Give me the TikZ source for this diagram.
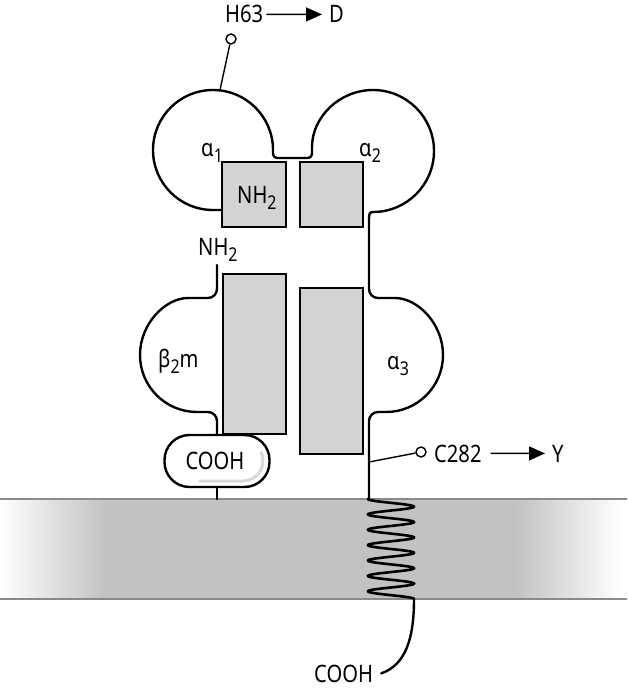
\documentclass[tikz,border=0pt]{standalone}
\usepackage{fontspec}
\setmainfont{Noto Sans}[FakeStretch=0.84]
\usetikzlibrary{arrows.meta}
\definecolor{boxgray}{HTML}{D3D3D3}
\definecolor{memgray}{HTML}{C2C2C2}
\definecolor{memline}{HTML}{8A8A8A}
\newcommand\subs[1]{\raisebox{-6.5pt}{\fontsize{19}{19}\selectfont #1}}
\begin{document}
\begin{tikzpicture}[x=1pt,y=-1pt,
  lobe/.style={line width=2.4pt, line cap=round, line join=round},
  domainbox/.style={draw, line width=1.4pt, fill=boxgray},
  lbl/.style={inner sep=0pt, font=\fontsize{24}{28}\selectfont, anchor=base west},
  stem/.style={line width=1.4pt},
  arr/.style={line width=1.4pt, -{Triangle[length=16pt,width=14pt]}},
  dot/.style={circle, draw, line width=1.4pt, fill=white, minimum size=10pt, inner sep=0pt},
  capsule/.style={draw, line width=2.4pt, fill=white, rounded corners=25pt, minimum width=105pt, minimum height=52pt, inner sep=0pt, font=\fontsize{24}{28}\selectfont}]
\useasboundingbox (0,0) rectangle (627,688);
% membrane
\shade[left color=white, right color=memgray] (0,499) rectangle (106,599);
\fill[memgray] (105,499) rectangle (516,599);
\shade[left color=memgray, right color=white] (515,499) rectangle (620,599);
\draw[memline, line width=1.5pt] (0,499) -- (627,499);
\draw[memline, line width=1.5pt] (0,599) -- (627,599);
% alpha chain outline
\draw[lobe] (222,210) -- (213,210) arc[start angle=90, end angle=360, radius=60]
  [rounded corners=4pt] -- (273,158) -- (312,158) -- (312,151) [sharp corners]
  arc[start angle=180, end angle=450, radius=61]
  .. controls (369,212) and (369,214) .. (369,222)
  [rounded corners=9pt] -- (369,298) -- (386,298) [sharp corners]
  arc[start angle=270, end angle=450, radius=57]
  [rounded corners=9pt] -- (369,412) -- (369,499);
% beta2m outline
\draw[lobe] (217,265) [rounded corners=9pt] -- (217,298) -- (197,298) [sharp corners]
  arc[start angle=270, end angle=90, radius=57]
  [rounded corners=9pt] -- (217,412) -- (217,436);
% domain boxes
\draw[domainbox] (222,162) rectangle (286,227);
\draw[domainbox] (300,162) rectangle (363,227);
\draw[domainbox] (223,274) rectangle (286,434);
\draw[domainbox] (300,288) rectangle (363,454);
% capsule
\node[capsule] (cap) at (217,461) {};
\draw[gray!30, line width=3pt, line cap=round] (200,481) -- (243,481) arc[start angle=90, end angle=-25, radius=20];
\node[inner sep=0pt, font=\fontsize{24}{28}\selectfont] (captext) at (215,461) {COOH};
\coordinate (memtopL) at (217,499);
\draw[lobe] (cap.south) -- (memtopL);
% helix
\draw[line width=2.6pt, line cap=round] plot[domain=0:2340, samples=320, variable=\t] ({391-23*cos(\t)},{499+\t/23.4});
\coordinate (helixend) at (414,599);
\node[lbl] (cooh2) at (314,682) {COOH};
\draw[lobe] (helixend) .. controls (414,640) and (405,665) .. ([xshift=8pt]cooh2.east);
% H63 mutation
\coordinate (h63base) at (220,90);
\node[dot] (h63dot) at (231,39) {};
\draw[stem] (h63base) -- (h63dot);
\node[lbl] (h63) at (225,23) {H63};
\node[lbl] (d) at (329,23) {D};
\draw[arr, shorten <=3pt, shorten >=7pt] (h63) -- (d);
% C282 mutation
\coordinate (c282base) at (369,462);
\node[dot] (c282dot) at (421,452) {};
\draw[stem] (c282base) -- (c282dot);
\node[lbl] (c282) at (434,462) {C282};
\node[lbl] (y) at (552,462) {Y};
\draw[arr, shorten <=9pt, shorten >=7pt] (c282) -- (y);
% labels
\node[lbl] (a1) at (201,156) {α\subs{1}};
\node[lbl] (a2) at (359,156) {α\subs{2}};
\node[lbl] (nh2a) at (237,203) {NH\subs{2}};
\node[lbl] (nh2b) at (198,255) {NH\subs{2}};
\node[lbl] (b2m) at (158,367) {β\subs{2}m};
\node[lbl] (a3) at (387,369) {α\subs{3}};
\end{tikzpicture}
\end{document}
